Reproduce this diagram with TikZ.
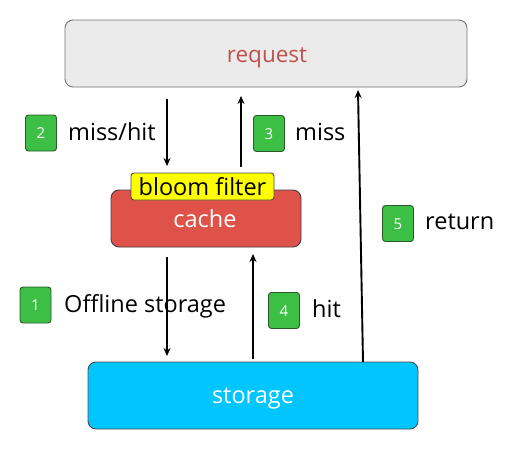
\documentclass[tikz,border=0pt]{standalone}
\usepackage{fontspec}
\setmainfont{Open Sans}
\usetikzlibrary{arrows.meta}
\definecolor{reqfill}{HTML}{EBEBEB}
\definecolor{reqtext}{HTML}{C0504D}
\definecolor{cachefill}{HTML}{DF524A}
\definecolor{storfill}{HTML}{00C5FF}
\definecolor{badgefill}{HTML}{3DBE45}
\definecolor{badgeline}{HTML}{2A5A2A}
\definecolor{bloomfill}{HTML}{FFFF00}
\tikzset{
  x=1pt, y=-1pt,
  box/.style={draw=black!70, line width=0.9pt, rounded corners=8pt, inner sep=0pt},
  boxtxt/.style={anchor=base, inner sep=0pt, font=\fontsize{23.5}{26}\selectfont},
  badge/.style={draw=badgeline, fill=badgefill, rounded corners=3pt, line width=0.9pt,
     minimum width=31pt, minimum height=36pt, inner sep=0pt},
  badgetxt/.style={anchor=base, inner sep=0pt, text=white, font=\fontsize{15}{17}\selectfont},
  lbl/.style={anchor=base west, inner sep=0pt, font=\fontsize{23.5}{26}\selectfont},
  arr/.style={line width=1.9pt, -{Stealth[length=8pt,width=7pt]}}
}
\begin{document}
\begin{tikzpicture}
\useasboundingbox (0,0) rectangle (529,461);
\node[box, fill=reqfill, draw=black!55, minimum width=402pt, minimum height=67pt] (req) at (266,53.5) {};
\node[boxtxt, text=reqtext, font=\fontsize{22.5}{25}\selectfont] (reqtxt) at (267,62) {request};
\node[box, fill=cachefill, draw=black!75, minimum width=190pt, minimum height=57pt] (cache) at (206,218.5) {};
\node[boxtxt, text=white] (cachetxt) at (205,227) {cache};
\node[draw=black!70, fill=bloomfill, rounded corners=3pt, line width=0.9pt, minimum width=143pt,
  minimum height=27pt, inner sep=0pt] (bloom) at (202.5,186.5) {};
\node[boxtxt] (bloomtxt) at (202.5,195) {bloom filter};
\node[box, fill=storfill, draw=black!70, minimum width=330pt, minimum height=67pt] (stor) at (253,395.5) {};
\node[boxtxt, text=white] (stortxt) at (253,403) {storage};
% arrow endpoints
\coordinate (a2s) at (167,99);  \coordinate (a2e) at (167,166);
\coordinate (a3s) at (241,167); \coordinate (a3e) at (241,96);
\coordinate (a5s) at (363,362); \coordinate (a5e) at (358,90);
\coordinate (a1s) at (167,257); \coordinate (a1e) at (167,356);
\coordinate (a4s) at (253,359); \coordinate (a4e) at (253,254);
\draw[arr] (a2s) -- (a2e);
\draw[arr] (a3s) -- (a3e);
\draw[arr] (a5s) -- (a5e);
\draw[arr] (a1s) -- (a1e);
\draw[arr] (a4s) -- (a4e);
% badges and labels
\node[badge] (b2) at (41,133) {};
\node[badgetxt] (b2t) at (41,138.5) {2};
\node[lbl] (l2) at (68,140) {miss/hit};
\node[badge] (b3) at (269,133.5) {};
\node[badgetxt] (b3t) at (269,139) {3};
\node[lbl] (l3) at (295,140) {miss};
\node[badge] (b5) at (398,223.5) {};
\node[badgetxt] (b5t) at (398,229) {5};
\node[lbl] (l5) at (425,229) {return};
\node[badge] (b1) at (35.5,305) {};
\node[badgetxt] (b1t) at (35.5,310.5) {1};
\node[lbl] (l1) at (64,312) {Offline storage};
\node[badge] (b4) at (284,310.5) {};
\node[badgetxt] (b4t) at (284,316) {4};
\node[lbl] (l4) at (312,317) {hit};
\end{tikzpicture}
\end{document}
